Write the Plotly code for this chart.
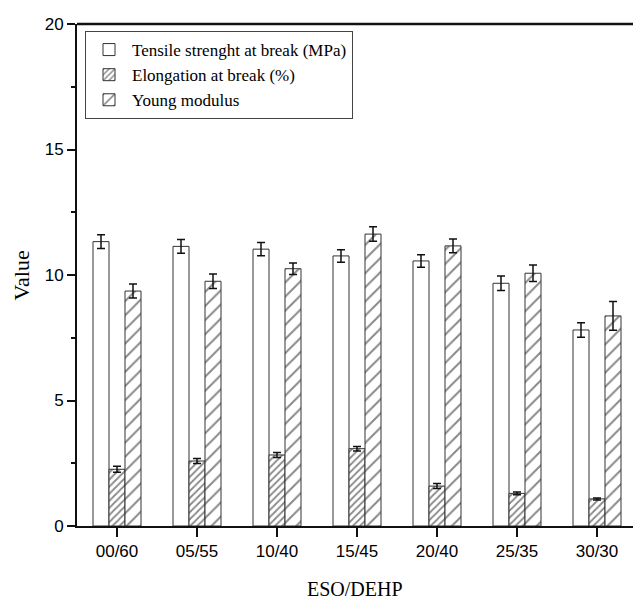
import plotly.graph_objects as go

categories = ["00/60", "05/55", "10/40", "15/45", "20/40", "25/35", "30/30"]

tensile = [11.33, 11.14, 11.03, 10.76, 10.56, 9.67, 7.81]
tensile_err = [0.27, 0.27, 0.26, 0.25, 0.25, 0.29, 0.29]

elongation = [2.26, 2.59, 2.83, 3.08, 1.59, 1.30, 1.08]
elongation_err = [0.12, 0.10, 0.10, 0.09, 0.10, 0.05, 0.04]

young = [9.36, 9.75, 10.25, 11.63, 11.16, 10.07, 8.37]
young_err = [0.28, 0.29, 0.23, 0.29, 0.27, 0.33, 0.57]

names = ["Tensile strenght at break (MPa)", "Elongation at break (%)", "Young modulus"]
y_ticks = [0, 5, 10, 15, 20]
x_title = "ESO/DEHP"
y_title = "Value"

serif = "Liberation Serif, Times New Roman, serif"
sans = "Liberation Sans, Arial, sans-serif"
line_col = "#333333"

def err(vals):
    return dict(type="data", array=vals, visible=True, color="#111111",
                thickness=1.5, width=4)

fig = go.Figure()
fig.add_trace(go.Bar(
    x=categories, y=tensile, name=names[0], error_y=err(tensile_err),
    marker=dict(color="white", line=dict(color=line_col, width=1)),
))
fig.add_trace(go.Bar(
    x=categories, y=elongation, name=names[1], error_y=err(elongation_err),
    marker=dict(color="white", line=dict(color=line_col, width=1),
                pattern=dict(shape="/", size=5, solidity=0.35,
                             fgcolor="#111111", bgcolor="white")),
))
fig.add_trace(go.Bar(
    x=categories, y=young, name=names[2], error_y=err(young_err),
    marker=dict(color="white", line=dict(color=line_col, width=1),
                pattern=dict(shape="/", size=10, solidity=0.2,
                             fgcolor="#111111", bgcolor="white")),
))

fig.update_layout(
    width=633, height=599,
    margin=dict(l=77, r=0, t=24, b=73, autoexpand=False),
    paper_bgcolor="white", plot_bgcolor="white",
    barmode="group", bargap=0.4, bargroupgap=0,
    showlegend=True,
    legend=dict(
        x=0.0144, y=0.986, xanchor="left", yanchor="top",
        bordercolor="#444444", borderwidth=1, bgcolor="white",
        font=dict(family=serif, size=17, color="black"),
        tracegroupgap=0, itemwidth=36,
    ),
    font=dict(family=sans, color="black"),
    shapes=[
        dict(type="line", xref="paper", yref="paper", x0=0, x1=1, y0=1, y1=1,
             line=dict(color="#111111", width=2.5)),
    ],
    annotations=[
        dict(text=x_title, xref="paper", yref="paper", x=0.5, y=-0.125,
             xanchor="center", yanchor="middle", showarrow=False,
             font=dict(family=serif, size=20, color="black")),
        dict(text=y_title, xref="paper", yref="paper", x=-0.1, y=0.5,
             xanchor="center", yanchor="middle", showarrow=False, textangle=-90,
             font=dict(family=serif, size=22, color="black")),
    ],
)

fig.update_xaxes(
    range=[-0.5, 6.45], automargin=False,
    showline=True, linecolor="#111111", linewidth=2, mirror=False,
    ticks="outside", ticklen=9, tickwidth=1.5, tickcolor="#111111",
    tickfont=dict(family=sans, size=17, color="black"),
    showgrid=False, zeroline=False,
)
fig.update_yaxes(
    range=[0, 20], tickvals=y_ticks, ticktext=[str(v) for v in y_ticks],
    automargin=False,
    showline=True, linecolor="#111111", linewidth=2,
    ticks="outside", ticklen=8, tickwidth=1.5, tickcolor="#111111",
    minor=dict(ticks="outside", ticklen=4, tickwidth=1.5, tickcolor="#111111",
               dtick=2.5, tick0=0, showgrid=False),
    tickfont=dict(family=sans, size=17, color="black"),
    showgrid=False, zeroline=False,
)

fig.write_html("out.html", config={"displayModeBar": False},
               post_script="document.body.style.margin='0';document.body.style.overflow='hidden';")
